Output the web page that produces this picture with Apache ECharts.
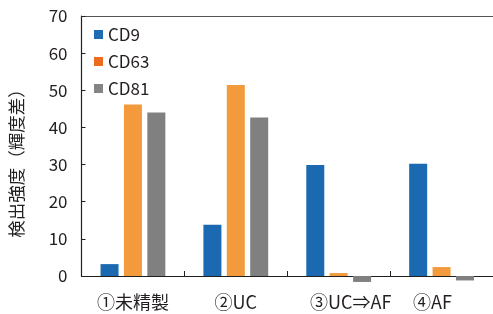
<!DOCTYPE html>
<html><head><meta charset="utf-8">
<script src="https://cdn.jsdelivr.net/npm/echarts@6/dist/echarts.min.js"></script>
<style>html,body{margin:0;padding:0;background:#fff}#c{width:493px;height:314px}</style>
</head><body><div id="c"></div>
<script>
const categories = ['①未精製', '②UC', '③UC⇒AF', '④AF'];
const seriesNames = ['CD9', 'CD63', 'CD81'];
const cd9 = [3.2, 13.8, 29.9, 30.2];
const cd63 = [46.2, 51.4, 0.8, 2.4];
const cd81 = [44.0, 42.7, -1.6, -1.2];
const yTicks = [0, 10, 20, 30, 40, 50, 60, 70];
const yAxisTitle = '検出強度（輝度差）';

const font = '"Noto Sans CJK JP", "Noto Sans", sans-serif';
const barColors = ['#1a69b1', '#f29a3c', '#808080'];
const legendColors = ['#1d6cb4', '#ec6b1e', '#848484'];
const values = [cd9, cd63, cd81];
// horizontal label nudges (layout only)
const labelPads = [[0, 0, 0, 0], [0, 0, 0, 0], [0, 0, 0, 24], [0, 18, 0, 0]];

const chart = echarts.init(document.getElementById('c'));
chart.setOption({
  animation: false,
  textStyle: { fontFamily: font },
  grid: { left: 81, right: -3, top: 16, bottom: 38, containLabel: false },
  legend: {
    orient: 'vertical', left: 94, top: 24, padding: 0,
    itemWidth: 9, itemHeight: 9, itemGap: 6,
    icon: 'rect',
    textStyle: { fontSize: 17, color: '#231f20', fontFamily: font, lineHeight: 21 },
    data: seriesNames.map((n, i) => ({ name: n, itemStyle: { color: legendColors[i] } }))
  },
  xAxis: [{
    type: 'category',
    data: categories.map((c, i) => ({ value: c, textStyle: { padding: labelPads[i] } })),
    axisLine: { onZero: true, lineStyle: { color: '#231f20', width: 1.2 } },
    axisTick: { show: true, inside: true, length: 5, lineStyle: { color: '#231f20' } },
    axisLabel: { interval: 0, fontSize: 18, color: '#231f20', margin: 17, fontFamily: font }
  }, {
    type: 'category', data: categories, position: 'top',
    axisLine: { show: true, lineStyle: { color: '#555', width: 1.2 } },
    axisTick: { show: false }, axisLabel: { show: false }
  }],
  yAxis: {
    type: 'value', min: 0, max: 70, interval: 10,
    name: yAxisTitle, nameLocation: 'middle', nameGap: 56, nameRotate: 90,
    nameTextStyle: { fontSize: 17.5, color: '#231f20', fontFamily: font, padding: [0, 26, 0, 0] },
    axisLine: { show: true, lineStyle: { color: '#231f20', width: 1.2 } },
    axisTick: { show: true, inside: true, length: 4, lineStyle: { color: '#231f20' } },
    splitLine: { show: false },
    axisLabel: { fontSize: 17, color: '#231f20', margin: 14, fontFamily: font,
      formatter: v => yTicks.includes(v) ? String(v) : '' }
  },
  series: values.map((d, i) => ({
    name: seriesNames[i], type: 'bar', data: d, clip: false,
    barWidth: 18, barGap: '30%',
    itemStyle: { color: barColors[i] }
  }))
});
</script></body></html>
